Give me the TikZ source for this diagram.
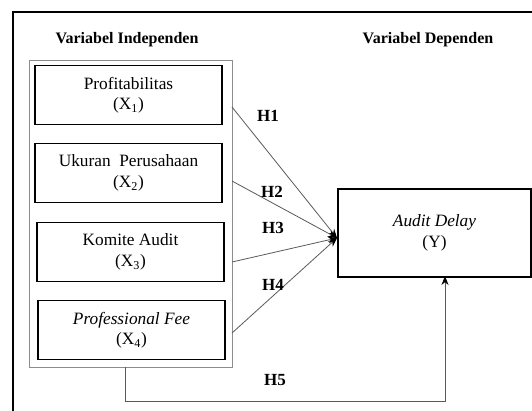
\documentclass[tikz,border=0pt]{standalone}
\usepackage{fontspec}
\setmainfont{Liberation Serif}
\usetikzlibrary{arrows.meta}
\tikzset{
  varbox/.style={draw=black, line width=1.1pt, minimum width=187pt, minimum height=59pt, align=center, inner sep=0pt, font=\fontsize{17.3}{20.5}\selectfont},
  ybox/.style={draw=black, line width=1.1pt, minimum width=193pt, minimum height=88pt, align=center, inner sep=0pt, font=\fontsize{17.3}{20.5}\selectfont},
  grp/.style={draw={rgb,255:red,140;green,140;blue,140}, line width=1pt, inner sep=0pt},
  conn/.style={draw={rgb,255:red,90;green,90;blue,90}, line width=0.8pt},
  tip/.style={-{Stealth[length=9pt,width=7pt,color=black,fill=black]}},
  title/.style={font=\fontsize{16}{19}\selectfont\bfseries},
  hlab/.style={font=\fontsize{17}{19}\selectfont\bfseries, inner sep=1pt}
}
\begin{document}
\begin{tikzpicture}[x=1pt,y=-1pt]
\useasboundingbox (0,0) rectangle (532,410);
\clip (0,0) rectangle (532,410);
\fill[white] (0,0) rectangle (532,410);
% outer frame (cut by the page edge)
\draw[line width=1.6pt] (545,12) -- (13,12) -- (13,425);
% titles
\node[title] (ti) at (127,40) {Variabel Independen};
\node[title] (td) at (428,40) {Variabel Dependen};
% group container
\node[grp, minimum width=203pt, minimum height=307pt] (grp) at (130.5,213.5) {};
% variable boxes
\node[varbox] (x1) at (128.5,95) {Profitabilitas\\(X\textsubscript{1})};
\node[varbox] (x2) at (128.5,173) {Ukuran~ Perusahaan\\(X\textsubscript{2})};
\node[varbox] (x3) at (130.5,252) {Komite Audit\\(X\textsubscript{3})};
\node[varbox] (x4) at (131.5,330) {\textit{Professional Fee}\\(X\textsubscript{4})};
\node[ybox] (y) at (434.5,233) {\textit{Audit Delay}\\(Y)};
% connector points
\coordinate (s1) at (232,107);
\coordinate (s2) at (232,181);
\coordinate (s3) at (232,262);
\coordinate (s4) at (232,333);
\coordinate (c) at (337,238);
\coordinate (s5) at (125,367);
\coordinate (b5) at (125,401);
\coordinate (t5) at (445,276);
\draw[conn,tip] (s1) -- (c);
\draw[conn,tip] (s2) -- (c);
\draw[conn,tip] (s3) -- (c);
\draw[conn,tip] (s4) -- (c);
\draw[conn,tip] (s5) -- (b5) -| (t5);
% hypothesis labels
\node[hlab] (h1) at (268,116) {H1};
\node[hlab] (h2) at (272,192) {H2};
\node[hlab] (h3) at (273,228) {H3};
\node[hlab] (h4) at (273,285) {H4};
\node[hlab] (h5) at (275,380) {H5};
\end{tikzpicture}
\end{document}
